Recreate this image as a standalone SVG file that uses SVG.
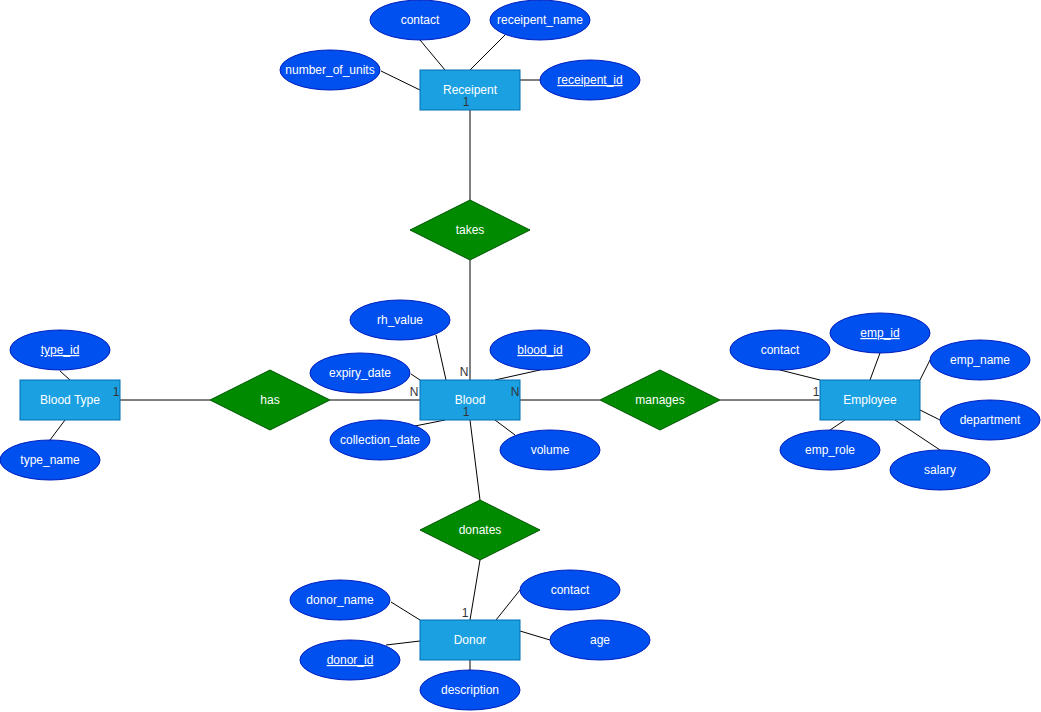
<svg xmlns="http://www.w3.org/2000/svg" width="1041" height="712" viewBox="0 0 1041 712">
<style>
.ent{fill:#1ba1e2;stroke:#006eaf;stroke-width:1}
.att{fill:#0050ef;stroke:#001dbc;stroke-width:1}
.rel{fill:#008a00;stroke:#005700;stroke-width:1}
text{font-family:"Liberation Sans",Arial,sans-serif;font-size:12px;text-anchor:middle}
.w{fill:#ffffff}
.u{text-decoration:underline}
.lbl{fill:#333333;font-size:12px}
.c line{stroke:#000000;stroke-width:1}
</style>
<rect width="1041" height="712" fill="#ffffff"/>
<g class="c" id="connectors">
<line x1="420" y1="40" x2="445" y2="70"/>
<line x1="505" y1="35" x2="470" y2="70"/>
<line x1="381" y1="71" x2="420" y2="90"/>
<line x1="520" y1="80" x2="540" y2="80"/>
<line x1="470" y1="110" x2="470" y2="200"/>
<line x1="470" y1="260" x2="470" y2="380"/>
<line x1="436" y1="335" x2="446" y2="380"/>
<line x1="540" y1="370" x2="495" y2="380"/>
<line x1="411" y1="374" x2="420" y2="380"/>
<line x1="415" y1="426" x2="445" y2="420"/>
<line x1="515" y1="435" x2="495" y2="420"/>
<line x1="470" y1="420" x2="480" y2="500"/>
<line x1="480" y1="560" x2="470" y2="620"/>
<line x1="391" y1="602" x2="420" y2="620"/>
<line x1="386" y1="645" x2="420" y2="641"/>
<line x1="520" y1="590" x2="496" y2="620"/>
<line x1="520" y1="631" x2="550" y2="640"/>
<line x1="470" y1="660" x2="470" y2="670"/>
<line x1="60" y1="371" x2="70" y2="380"/>
<line x1="50" y1="440" x2="65" y2="420"/>
<line x1="120" y1="400" x2="210" y2="400"/>
<line x1="330" y1="400" x2="420" y2="400"/>
<line x1="520" y1="400" x2="600" y2="400"/>
<line x1="720" y1="400" x2="820" y2="400"/>
<line x1="780" y1="370" x2="820" y2="380"/>
<line x1="880" y1="353" x2="870" y2="380"/>
<line x1="930" y1="360" x2="920" y2="380"/>
<line x1="940" y1="420" x2="920" y2="410"/>
<line x1="830" y1="430" x2="845" y2="420"/>
<line x1="940" y1="450" x2="895" y2="420"/>
</g>
<g id="receipent"><rect class="ent" x="420" y="70" width="100" height="40"/><text class="w" x="470" y="94">Receipent</text><text class="lbl" x="466" y="106">1</text></g>
<g id="r_contact"><ellipse class="att" cx="420" cy="20" rx="50" ry="20"/><text class="w" x="420" y="24">contact</text></g>
<g id="r_name"><ellipse class="att" cx="540" cy="20" rx="50" ry="20"/><text class="w" x="540" y="24">receipent_name</text></g>
<g id="r_units"><ellipse class="att" cx="330" cy="70" rx="50" ry="20"/><text class="w" x="330" y="74">number_of_units</text></g>
<g id="r_id"><ellipse class="att" cx="590" cy="80" rx="50" ry="20"/><text class="w u" x="590" y="84">receipent_id</text></g>
<g id="takes"><polygon class="rel" points="470,200 530,230 470,260 410,230"/><text class="w" x="470" y="234">takes</text></g>
<g id="blood"><rect class="ent" x="420" y="380" width="100" height="40"/><text class="w" x="470" y="404">Blood</text><text class="lbl" x="466" y="416">1</text><text class="lbl" x="464" y="376">N</text><text class="lbl" x="414" y="396">N</text><text class="lbl" x="515" y="396">N</text></g>
<g id="rh_value"><ellipse class="att" cx="400" cy="320" rx="50" ry="20"/><text class="w" x="400" y="324">rh_value</text></g>
<g id="blood_id"><ellipse class="att" cx="540" cy="350" rx="50" ry="20"/><text class="w u" x="540" y="354">blood_id</text></g>
<g id="expiry_date"><ellipse class="att" cx="360" cy="373" rx="50" ry="20"/><text class="w" x="360" y="377">expiry_date</text></g>
<g id="collection_date"><ellipse class="att" cx="380" cy="440" rx="50" ry="20"/><text class="w" x="380" y="444">collection_date</text></g>
<g id="volume"><ellipse class="att" cx="550" cy="450" rx="50" ry="20"/><text class="w" x="550" y="454">volume</text></g>
<g id="donates"><polygon class="rel" points="480,500 540,530 480,560 420,530"/><text class="w" x="480" y="534">donates</text></g>
<g id="donor"><rect class="ent" x="420" y="620" width="100" height="40"/><text class="w" x="470" y="644">Donor</text><text class="lbl" x="465" y="617">1</text></g>
<g id="donor_name"><ellipse class="att" cx="340" cy="600" rx="50" ry="20"/><text class="w" x="340" y="604">donor_name</text></g>
<g id="donor_id"><ellipse class="att" cx="350" cy="660" rx="50" ry="20"/><text class="w u" x="350" y="664">donor_id</text></g>
<g id="d_contact"><ellipse class="att" cx="570" cy="590" rx="50" ry="20"/><text class="w" x="570" y="594">contact</text></g>
<g id="age"><ellipse class="att" cx="600" cy="640" rx="50" ry="20"/><text class="w" x="600" y="644">age</text></g>
<g id="description"><ellipse class="att" cx="470" cy="690" rx="50" ry="20"/><text class="w" x="470" y="694">description</text></g>
<g id="blood_type"><rect class="ent" x="20" y="380" width="100" height="40"/><text class="w" x="70" y="404">Blood Type</text><text class="lbl" x="116" y="396">1</text></g>
<g id="type_id"><ellipse class="att" cx="60" cy="350" rx="50" ry="20"/><text class="w u" x="60" y="354">type_id</text></g>
<g id="type_name"><ellipse class="att" cx="50" cy="460" rx="50" ry="20"/><text class="w" x="50" y="464">type_name</text></g>
<g id="has"><polygon class="rel" points="270,370 330,400 270,430 210,400"/><text class="w" x="270" y="404">has</text></g>
<g id="manages"><polygon class="rel" points="660,370 720,400 660,430 600,400"/><text class="w" x="660" y="404">manages</text></g>
<g id="employee"><rect class="ent" x="820" y="380" width="100" height="40"/><text class="w" x="870" y="404">Employee</text><text class="lbl" x="816" y="396">1</text></g>
<g id="e_contact"><ellipse class="att" cx="780" cy="350" rx="50" ry="20"/><text class="w" x="780" y="354">contact</text></g>
<g id="emp_id"><ellipse class="att" cx="880" cy="333" rx="50" ry="20"/><text class="w u" x="880" y="337">emp_id</text></g>
<g id="emp_name"><ellipse class="att" cx="980" cy="360" rx="50" ry="20"/><text class="w" x="980" y="364">emp_name</text></g>
<g id="department"><ellipse class="att" cx="990" cy="420" rx="50" ry="20"/><text class="w" x="990" y="424">department</text></g>
<g id="emp_role"><ellipse class="att" cx="830" cy="450" rx="50" ry="20"/><text class="w" x="830" y="454">emp_role</text></g>
<g id="salary"><ellipse class="att" cx="940" cy="470" rx="50" ry="20"/><text class="w" x="940" y="474">salary</text></g>
</svg>
